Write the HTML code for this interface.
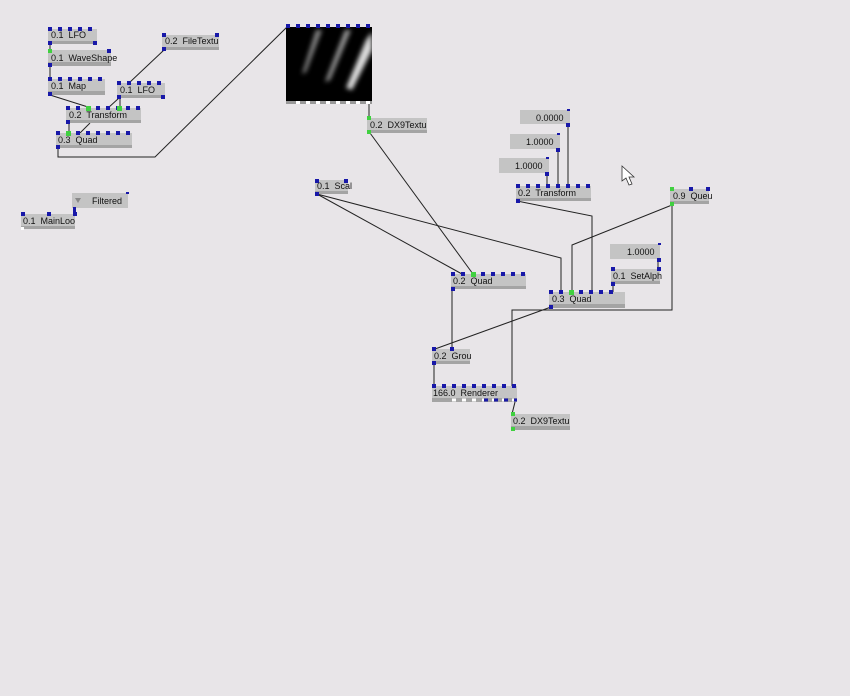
<!DOCTYPE html>
<html><head><meta charset="utf-8"><style>
html,body{margin:0;padding:0;background:#e8e5e8;}
svg{display:block;}
text{font-family:"Liberation Sans",sans-serif;font-size:9px;fill:#111;white-space:pre;}
</style></head><body>
<svg width="850" height="696" viewBox="0 0 850 696" xmlns="http://www.w3.org/2000/svg" xml:space="preserve">
<defs>
<filter id="bl" x="-50%" y="-50%" width="200%" height="200%"><feGaussianBlur stdDeviation="2.5"/></filter>
<clipPath id="pc"><rect x="286" y="27" width="86" height="74"/></clipPath>
</defs>
<rect width="850" height="696" fill="#e8e5e8"/>

<g stroke="#222" stroke-width="1" fill="none">
<line x1="50" y1="44" x2="50" y2="50"/>
<line x1="50" y1="66" x2="50" y2="79"/>
<line x1="50" y1="95" x2="88" y2="107"/>
<line x1="164" y1="50" x2="129" y2="83"/>
<line x1="119" y1="98" x2="108" y2="108"/>
<line x1="120" y1="98" x2="120" y2="108"/>
<line x1="90" y1="123" x2="80" y2="133"/>
<line x1="69" y1="123" x2="69" y2="133"/>
<polyline points="58,148 58,157 155,157 287,27"/>
<line x1="369" y1="103" x2="369" y2="117"/>
<line x1="370" y1="133" x2="473" y2="274"/>
<line x1="317" y1="194" x2="462" y2="274"/>
<polyline points="317,194 561,258 561,292"/>
<polyline points="517,201 592,216 592,292"/>
<polyline points="672,205 572,245 572,292"/>
<polyline points="672,205 672,310 512,310 512,386"/>
<line x1="551" y1="307" x2="435" y2="349"/>
<line x1="452" y1="289" x2="452" y2="349"/>
<line x1="434" y1="364" x2="434" y2="386"/>
<line x1="515" y1="402" x2="512" y2="414"/>
<line x1="568" y1="126" x2="568" y2="186"/>
<line x1="558" y1="150" x2="558" y2="186"/>
<line x1="547" y1="173" x2="547" y2="186"/>
<line x1="658" y1="260" x2="658" y2="269"/>
<line x1="613" y1="284" x2="613" y2="292"/>
</g>

<g>
<rect x="48" y="29" width="49" height="12" fill="#c4c4c4"/><rect x="48" y="41" width="49" height="3" fill="#a4a4a4"/>
<line x1="48" y1="29" x2="97" y2="29" stroke="#1818a8" stroke-width="4" stroke-dasharray="4,6"/>
<rect x="48" y="41" width="4" height="4" fill="#1818a8"/><rect x="93" y="41" width="4" height="4" fill="#1818a8"/>
<text x="51" y="38">0.1  LFO</text>

<rect x="48" y="50" width="63" height="12" fill="#c4c4c4"/><rect x="48" y="62" width="63" height="4" fill="#a4a4a4"/>
<rect x="48" y="49" width="4" height="4" fill="#40d040"/><rect x="107" y="49" width="4" height="4" fill="#1818a8"/>
<rect x="48" y="63" width="4" height="4" fill="#1818a8"/>
<text x="51" y="61">0.1  WaveShape</text>

<rect x="48" y="79" width="57" height="12" fill="#c4c4c4"/><rect x="48" y="91" width="57" height="4" fill="#a4a4a4"/>
<line x1="48" y1="79" x2="105" y2="79" stroke="#1818a8" stroke-width="4" stroke-dasharray="4,6"/>
<rect x="48" y="92" width="4" height="4" fill="#1818a8"/>
<text x="51" y="89">0.1  Map</text>

<rect x="162" y="35" width="57" height="12" fill="#c4c4c4"/><rect x="162" y="47" width="57" height="3" fill="#a4a4a4"/>
<rect x="162" y="33" width="4" height="4" fill="#1818a8"/><rect x="215" y="33" width="4" height="4" fill="#1818a8"/>
<rect x="162" y="47" width="4" height="4" fill="#1818a8"/>
<text x="165" y="44">0.2  FileTextu</text>

<rect x="117" y="83" width="48" height="12" fill="#c4c4c4"/><rect x="117" y="95" width="48" height="3" fill="#a4a4a4"/>
<line x1="117" y1="83" x2="165" y2="83" stroke="#1818a8" stroke-width="4" stroke-dasharray="4,6"/>
<rect x="117" y="95" width="4" height="4" fill="#1818a8"/><rect x="161" y="95" width="4" height="4" fill="#1818a8"/>
<text x="120" y="93">0.1  LFO</text>

<rect x="66" y="108" width="75" height="12" fill="#c4c4c4"/><rect x="66" y="120" width="75" height="3" fill="#a4a4a4"/>
<line x1="66" y1="108" x2="141" y2="108" stroke="#1818a8" stroke-width="4" stroke-dasharray="4,6"/>
<rect x="86" y="106" width="5" height="5" fill="#40d040"/><rect x="117" y="106" width="5" height="5" fill="#40d040"/>
<rect x="66" y="120" width="4" height="4" fill="#1818a8"/>
<text x="69" y="118">0.2  Transform</text>

<rect x="56" y="133" width="76" height="12" fill="#c4c4c4"/><rect x="56" y="145" width="76" height="3" fill="#a4a4a4"/>
<line x1="56" y1="133" x2="132" y2="133" stroke="#1818a8" stroke-width="4" stroke-dasharray="4,6"/>
<rect x="66" y="131" width="5" height="5" fill="#40d040"/>
<rect x="56" y="145" width="4" height="4" fill="#1818a8"/>
<text x="58" y="143">0.3  Quad</text>

<rect x="72" y="193" width="56" height="15" fill="#c4c4c4"/>
<polygon points="75,198 81,198 78,203" fill="#888"/>
<rect x="126" y="192" width="3" height="2" fill="#1818a8"/>
<text x="92" y="204">Filtered</text>

<rect x="21" y="214" width="54" height="12" fill="#c4c4c4"/><rect x="21" y="226" width="54" height="3" fill="#a4a4a4"/>
<rect x="21" y="212" width="4" height="4" fill="#1818a8"/><rect x="47" y="212" width="4" height="4" fill="#1818a8"/><rect x="73" y="212" width="4" height="4" fill="#1818a8"/>
<rect x="73" y="207" width="3" height="6" fill="#1818a8"/>
<rect x="21" y="227" width="3" height="3" fill="#fff"/>
<text x="23" y="224">0.1  MainLoo</text>

<rect x="286" y="27" width="86" height="74" fill="#000"/>
<g clip-path="url(#pc)" filter="url(#bl)">
<polygon points="316,30 322,30 306,72 302,74" fill="#888"/>
<polygon points="345,30 351,30 330,80 325,82" fill="#999"/>
<polygon points="366,40 372,32 372,50 352,90 346,88" fill="#ddd"/>
</g>
<line x1="286" y1="26" x2="372" y2="26" stroke="#1818a8" stroke-width="4" stroke-dasharray="4,6"/>
<rect x="286" y="101" width="86" height="3" fill="#999"/>
<line x1="296" y1="102.5" x2="372" y2="102.5" stroke="#fff" stroke-width="3" stroke-dasharray="4,6"/>

<rect x="367" y="118" width="60" height="12" fill="#c4c4c4"/><rect x="367" y="130" width="60" height="3" fill="#a4a4a4"/>
<rect x="367" y="116" width="4" height="4" fill="#40d040"/><rect x="367" y="130" width="4" height="4" fill="#40d040"/>
<text x="370" y="128">0.2  DX9Textu</text>

<rect x="315" y="180" width="33" height="11" fill="#c4c4c4"/><rect x="315" y="191" width="33" height="3" fill="#a4a4a4"/>
<rect x="315" y="179" width="4" height="4" fill="#1818a8"/><rect x="344" y="179" width="4" height="4" fill="#1818a8"/>
<rect x="315" y="192" width="4" height="4" fill="#1818a8"/>
<text x="317" y="189">0.1  Scal</text>

<rect x="520" y="110" width="50" height="14" fill="#c4c4c4"/><text x="536" y="121">0.0000</text>
<rect x="567" y="109" width="3" height="2" fill="#1818a8"/><rect x="566" y="123" width="4" height="4" fill="#1818a8"/>
<rect x="510" y="134" width="50" height="15" fill="#c4c4c4"/><text x="526" y="145">1.0000</text>
<rect x="557" y="133" width="3" height="2" fill="#1818a8"/><rect x="556" y="148" width="4" height="4" fill="#1818a8"/>
<rect x="499" y="158" width="50" height="15" fill="#c4c4c4"/><text x="515" y="169">1.0000</text>
<rect x="546" y="157" width="3" height="2" fill="#1818a8"/><rect x="545" y="172" width="4" height="4" fill="#1818a8"/>

<rect x="516" y="186" width="75" height="12" fill="#c4c4c4"/><rect x="516" y="198" width="75" height="3" fill="#a4a4a4"/>
<line x1="516" y1="186" x2="591" y2="186" stroke="#1818a8" stroke-width="4" stroke-dasharray="4,6"/>
<rect x="516" y="199" width="4" height="4" fill="#1818a8"/>
<text x="518" y="196">0.2  Transform</text>

<rect x="670" y="189" width="39" height="12" fill="#c4c4c4"/><rect x="670" y="201" width="39" height="3" fill="#a4a4a4"/>
<rect x="670" y="187" width="4" height="4" fill="#40d040"/><rect x="689" y="187" width="4" height="4" fill="#1818a8"/><rect x="706" y="187" width="4" height="4" fill="#1818a8"/>
<rect x="670" y="202" width="4" height="4" fill="#40d040"/>
<text x="673" y="199">0.9  Queu</text>

<rect x="610" y="244" width="50" height="15" fill="#c4c4c4"/><text x="627" y="255">1.0000</text>
<rect x="658" y="243" width="3" height="2" fill="#1818a8"/><rect x="657" y="258" width="4" height="4" fill="#1818a8"/>

<rect x="611" y="269" width="49" height="12" fill="#c4c4c4"/><rect x="611" y="281" width="49" height="3" fill="#a4a4a4"/>
<rect x="611" y="267" width="4" height="4" fill="#1818a8"/><rect x="657" y="267" width="4" height="4" fill="#1818a8"/>
<rect x="611" y="282" width="4" height="4" fill="#1818a8"/>
<text x="613" y="279">0.1  SetAlph</text>

<rect x="451" y="274" width="75" height="12" fill="#c4c4c4"/><rect x="451" y="286" width="75" height="3" fill="#a4a4a4"/>
<line x1="451" y1="274" x2="526" y2="274" stroke="#1818a8" stroke-width="4" stroke-dasharray="4,6"/>
<rect x="471" y="272" width="5" height="5" fill="#40d040"/>
<rect x="451" y="287" width="4" height="4" fill="#1818a8"/>
<text x="453" y="284">0.2  Quad</text>

<rect x="549" y="292" width="76" height="12" fill="#c4c4c4"/><rect x="549" y="304" width="76" height="4" fill="#a4a4a4"/>
<line x1="549" y1="292" x2="615" y2="292" stroke="#1818a8" stroke-width="4" stroke-dasharray="4,6"/>
<rect x="569" y="290" width="5" height="5" fill="#40d040"/>
<rect x="549" y="305" width="4" height="4" fill="#1818a8"/>
<text x="552" y="302">0.3  Quad</text>

<rect x="432" y="349" width="38" height="12" fill="#c4c4c4"/><rect x="432" y="361" width="38" height="3" fill="#a4a4a4"/>
<rect x="432" y="347" width="4" height="4" fill="#1818a8"/><rect x="450" y="347" width="4" height="4" fill="#1818a8"/>
<rect x="432" y="361" width="4" height="4" fill="#1818a8"/>
<text x="434" y="359">0.2  Grou</text>

<rect x="432" y="386" width="85" height="12" fill="#c4c4c4"/><rect x="432" y="398" width="85" height="4" fill="#a4a4a4"/>
<line x1="432" y1="386" x2="517" y2="386" stroke="#1818a8" stroke-width="4" stroke-dasharray="4,6"/>
<line x1="452" y1="400" x2="517" y2="400" stroke="#fff" stroke-width="3" stroke-dasharray="4,6"/>
<line x1="484" y1="400" x2="517" y2="400" stroke="#1818a8" stroke-width="3" stroke-dasharray="4,6"/>
<text x="433" y="396">166.0  Renderer</text>

<rect x="511" y="414" width="59" height="12" fill="#c4c4c4"/><rect x="511" y="426" width="59" height="4" fill="#a4a4a4"/>
<rect x="511" y="412" width="4" height="4" fill="#40d040"/><rect x="511" y="427" width="4" height="4" fill="#40d040"/>
<text x="513" y="424">0.2  DX9Textu</text>

<polygon points="622,166 622,181 626,178 629,185 632,184 629,177 634,177" fill="#fff" stroke="#333" stroke-width="0.8"/>
</g>
</svg>
</body></html>
